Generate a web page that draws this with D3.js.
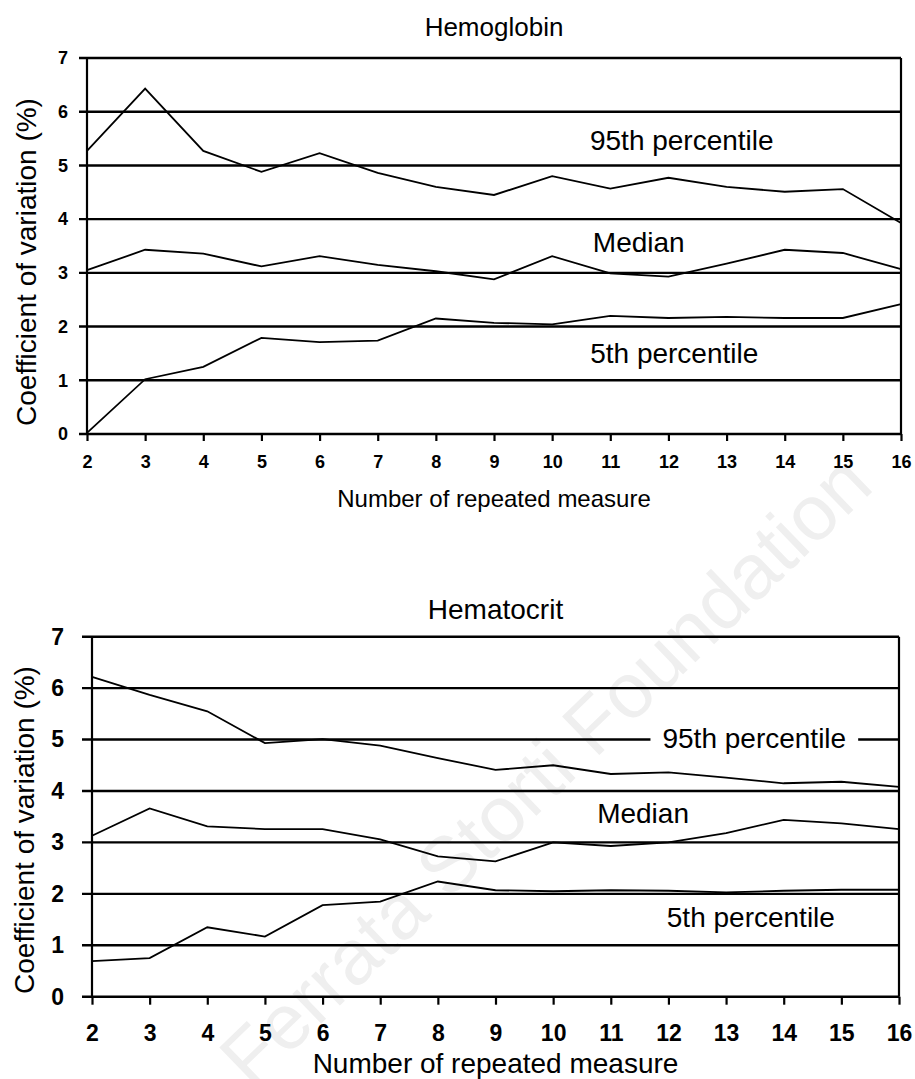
<!DOCTYPE html>
<html>
<head>
<meta charset="utf-8">
<script src="https://cdn.jsdelivr.net/npm/d3@7"></script>
<style>
  body { margin: 0; background: #fff; }
  text { font-family: "Liberation Sans", Arial, sans-serif; }
</style>
</head>
<body>
<svg id="chart" width="915" height="1079"></svg>
<script>
// repeated measures on the x axis
const measures = [2, 3, 4, 5, 6, 7, 8, 9, 10, 11, 12, 13, 14, 15, 16];
const yTicks = [0, 1, 2, 3, 4, 5, 6, 7];

// Hemoglobin, CV (%)
const hbP95    = [5.27, 6.43, 5.27, 4.88, 5.23, 4.86, 4.60, 4.45, 4.80, 4.57, 4.77, 4.60, 4.51, 4.56, 3.93];
const hbMedian = [3.05, 3.43, 3.36, 3.12, 3.31, 3.15, 3.03, 2.88, 3.31, 2.99, 2.93, 3.17, 3.43, 3.37, 3.07];
const hbP5     = [0.02, 1.02, 1.25, 1.79, 1.71, 1.74, 2.15, 2.07, 2.04, 2.20, 2.16, 2.18, 2.16, 2.16, 2.42];

// Hematocrit, CV (%)
const hctP95    = [6.22, 5.87, 5.55, 4.93, 5.01, 4.88, 4.64, 4.41, 4.50, 4.33, 4.36, 4.26, 4.15, 4.18, 4.08];
const hctMedian = [3.13, 3.66, 3.31, 3.26, 3.26, 3.06, 2.73, 2.63, 3.00, 2.93, 3.00, 3.18, 3.44, 3.37, 3.26];
const hctP5     = [0.69, 0.75, 1.35, 1.17, 1.78, 1.85, 2.24, 2.07, 2.05, 2.07, 2.06, 2.03, 2.06, 2.08, 2.08];

const seriesNames = ['95th percentile', 'Median', '5th percentile'];

const svg = d3.select('#chart');

// faint watermark behind everything
svg.append('text')
    .attr('transform', 'translate(545,770) rotate(-44)')
    .attr('text-anchor', 'middle')
    .attr('dominant-baseline', 'central')
    .style('font-size', '78px')
    .style('fill', '#efefef')
    .text('Ferrata Storti Foundation');

const panels = [
    {
        title: 'Hemoglobin', series: [hbP95, hbMedian, hbP5],
        left: 87, right: 901, top: 58, bottom: 434,
        titleY: 36, titleSize: 26,
        tickSize: 18, xTickY: 468, yTickX: 68, tickLen: 7, yTickLen: 8,
        xTitleY: 507, xTitleSize: 24, yTitleX: 36, yTitleY: 262, yTitleSize: 28,
        labels: [[12.23, 5.29, false], [11.49, 3.39, false], [12.10, 1.32, false]]
    },
    {
        title: 'Hematocrit', series: [hctP95, hctMedian, hctP5],
        left: 92, right: 899, top: 636.7, bottom: 996.7,
        titleY: 619, titleSize: 28,
        tickSize: 23, xTickY: 1041, yTickX: 64, tickLen: 8, yTickLen: 10,
        xTitleY: 1073, xTitleSize: 28, yTitleX: 34, yTitleY: 830, yTitleSize: 28,
        labels: [[13.49, 4.84, true], [11.56, 3.38, false], [13.43, 1.36, false]]
    }
];

panels.forEach(p => {
    const x = d3.scaleLinear().domain([2, 16]).range([p.left, p.right]);
    const y = d3.scaleLinear().domain([0, 7]).range([p.bottom, p.top]);
    const g = svg.append('g');

    // horizontal grid lines, extended left as tick marks
    g.selectAll('line.grid')
        .data(yTicks)
        .join('line')
        .attr('x1', p.left - p.yTickLen)
        .attr('x2', p.right)
        .attr('y1', d => y(d))
        .attr('y2', d => y(d))
        .style('stroke', '#000')
        .style('stroke-width', '2.4px');

    // left and right frame lines
    [2, 16].forEach(v => {
        g.append('line')
            .attr('x1', x(v)).attr('x2', x(v))
            .attr('y1', y(7)).attr('y2', y(0))
            .style('stroke', '#000')
            .style('stroke-width', '2.2px');
    });

    // y tick labels
    const yAxis = d3.axisLeft(y).tickValues(yTicks).tickFormat(d3.format('d')).tickSize(0).tickPadding(0);
    const ya = g.append('g').attr('transform', `translate(${p.yTickX},0)`).call(yAxis);
    ya.select('.domain').remove();
    ya.selectAll('text')
        .style('font-size', `${p.tickSize}px`)
        .style('font-weight', 'bold')
        .style('font-family', '"Liberation Sans", Arial, sans-serif')
        .attr('fill', '#000');

    // x axis ticks + labels
    const xAxis = d3.axisBottom(x).tickValues(measures).tickFormat(d3.format('d')).tickSize(p.tickLen).tickPadding(0);
    const xa = g.append('g').attr('transform', `translate(0,${p.bottom})`).call(xAxis);
    xa.select('.domain').remove();
    xa.selectAll('line').style('stroke', '#000').style('stroke-width', '2.2px');
    xa.selectAll('text')
        .attr('y', p.xTickY - p.bottom)
        .attr('dy', 0)
        .style('font-size', `${p.tickSize}px`)
        .style('font-weight', 'bold')
        .style('font-family', '"Liberation Sans", Arial, sans-serif')
        .attr('fill', '#000');

    // series lines
    const line = d3.line().x((d, i) => x(measures[i])).y(d => y(d));
    p.series.forEach(s => {
        g.append('path')
            .datum(s)
            .attr('d', line)
            .style('fill', 'none')
            .style('stroke', '#000')
            .style('stroke-width', '1.8px');
    });

    // series labels
    p.labels.forEach((l, i) => {
        const t = g.append('text')
            .attr('x', x(l[0]))
            .attr('y', y(l[1]))
            .attr('text-anchor', 'middle')
            .style('font-size', '28px')
            .style('fill', '#000')
            .text(seriesNames[i]);
        if (l[2]) {
            const b = t.node().getBBox();
            g.insert('rect', () => t.node())
                .attr('x', b.x - 12)
                .attr('y', b.y)
                .attr('width', b.width + 24)
                .attr('height', b.height)
                .style('fill', '#fff');
        }
    });

    // chart title
    g.append('text')
        .attr('x', (p.left + p.right) / 2)
        .attr('y', p.titleY)
        .attr('text-anchor', 'middle')
        .style('font-size', `${p.titleSize}px`)
        .text(p.title);

    // axis titles
    g.append('text')
        .attr('x', (p.left + p.right) / 2)
        .attr('y', p.xTitleY)
        .attr('text-anchor', 'middle')
        .style('font-size', `${p.xTitleSize}px`)
        .text('Number of repeated measure');

    g.append('text')
        .attr('transform', `translate(${p.yTitleX},${p.yTitleY}) rotate(-90)`)
        .attr('text-anchor', 'middle')
        .style('font-size', `${p.yTitleSize}px`)
        .text('Coefficient of variation (%)');
});
</script>
</body>
</html>
